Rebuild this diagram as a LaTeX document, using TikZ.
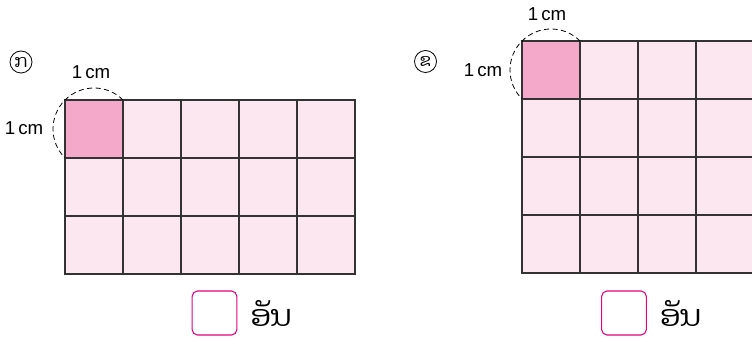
\documentclass[tikz,border=0pt]{standalone}
\usepackage{fontspec}
\setmainfont{Liberation Sans}
\newfontfamily\laofont[Script=Lao]{Dhyana}
\usetikzlibrary{positioning}
\definecolor{cellpink}{HTML}{FCE6EF}
\definecolor{unitpink}{HTML}{F4A9CB}
\definecolor{boxpink}{HTML}{E6007E}
\definecolor{gridgray}{HTML}{333333}
\tikzset{
    inner line/.style={gridgray, line width=0.85pt},
    outer line/.style={gridgray, line width=2.2pt},
    unit arc/.style={black, line width=0.6pt, dash pattern=on 3.8pt off 2.6pt},
    cm label/.style={font=\fontsize{14}{16}\selectfont, inner sep=0pt},
    circle mark/.style={draw, circle, line width=0.6pt, minimum size=16.5pt,
        inner sep=0pt, font=\laofont\fontsize{13}{14}\selectfont},
    answer box/.style={draw=boxpink, line width=0.8pt, rounded corners=4pt,
        minimum width=33.5pt, minimum height=33pt},
    unit word/.style={font=\laofont\fontsize{22}{24}\selectfont, inner sep=0pt}
}

\begin{document}
\begin{tikzpicture}[x=0.75pt, y=-0.75pt]
    \useasboundingbox (0,0) rectangle (752,338);
    \clip (0,0) rectangle (752,338);

    \node[circle mark] (mark a) at (21,62) {ກ};
    \begin{scope}[shift={(65,100)}]
        \fill[cellpink] (0,0) rectangle (290,174);
        \fill[unitpink] (0,0) rectangle (58,58);
        \foreach \i in {1,...,4}
            \draw[inner line] (\i*58,0) -- (\i*58,174);
        \foreach \j in {1,2}
            \draw[inner line] (0,\j*58) -- (290,\j*58);
        \draw[outer line] (0,0) rectangle (290,174);
        \draw[unit arc] (58,0) arc[start angle=-45, end angle=-225, radius=41];
        \node[cm label] (a top) at (26,-28) {1\,cm};
        \node[cm label] (a side) at (-41,28) {1\,cm};
    \end{scope}
    \node[answer box] (box a) at (214.5,313) {};
    \node[unit word, anchor=west] (word a) at ([xshift=13*0.75pt]box a.east) {ອັນ};

    \node[circle mark] (mark b) at (425.5,61.5) {ຂ};
    \begin{scope}[shift={(522,41)}]
        \fill[cellpink] (0,0) rectangle (232,232);
        \fill[unitpink] (0,0) rectangle (58,58);
        \foreach \i in {1,...,3}
            \draw[inner line] (\i*58,0) -- (\i*58,232);
        \foreach \j in {1,...,3}
            \draw[inner line] (0,\j*58) -- (232,\j*58);
        \draw[outer line] (0,0) rectangle (232,232);
        \draw[unit arc] (58,0) arc[start angle=-45, end angle=-225, radius=41];
        \node[cm label] (b top) at (25,-27) {1\,cm};
        \node[cm label] (b side) at (-39,29) {1\,cm};
    \end{scope}
    \node[answer box] (box b) at (624,313) {};
    \node[unit word, anchor=west] (word b) at ([xshift=13*0.75pt]box b.east) {ອັນ};
\end{tikzpicture}
\end{document}
